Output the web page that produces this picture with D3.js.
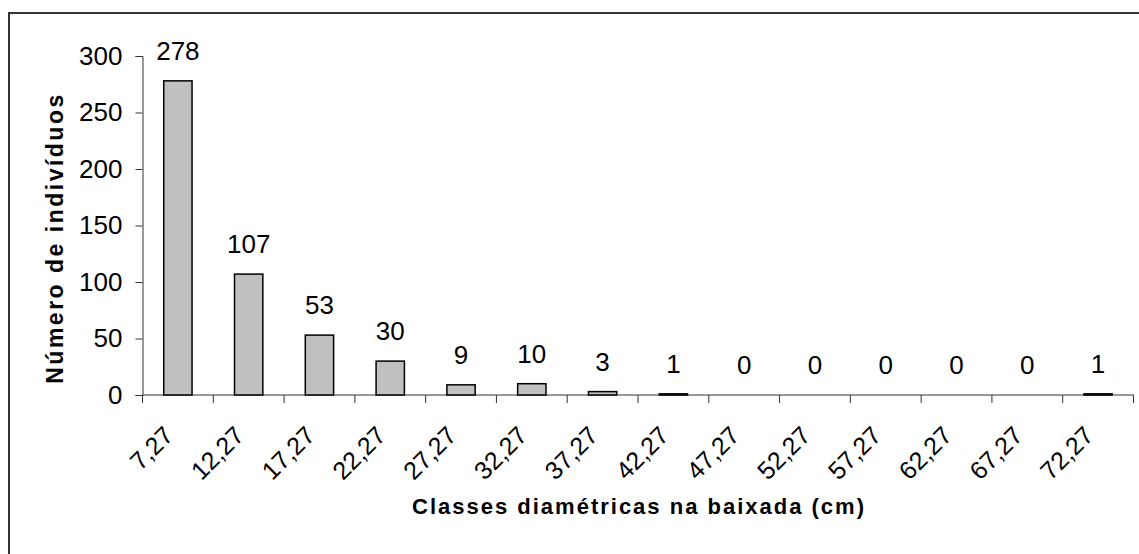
<!DOCTYPE html>
<html><head><meta charset="utf-8">
<script src="https://cdn.jsdelivr.net/npm/d3@7/dist/d3.min.js"></script>
<style>
html,body{margin:0;padding:0;background:#fff;}
text{font-family:Arial,"Liberation Sans",sans-serif;fill:#000;}
</style></head>
<body>
<svg id="chart" width="1139" height="554"></svg>
<script>
const categories = ["7,27","12,27","17,27","22,27","27,27","32,27","37,27","42,27","47,27","52,27","57,27","62,27","67,27","72,27"];
const counts = [278,107,53,30,9,10,3,1,0,0,0,0,0,1];
const yTicks = [0,50,100,150,200,250,300];
const xTitle = "Classes diamétricas na baixada (cm)";
const yTitle = "Número de indivíduos";

const data = categories.map((c,i)=>({c, v:counts[i]}));
const svg = d3.select("#chart");
const L = 142.5, R = 1133.5, T = 56, B = 395;
const FS = 26;

// outer frame
svg.append("rect").attr("x",9).attr("y",13).attr("width",1160).attr("height",600)
  .attr("fill","none").attr("stroke","#333").attr("stroke-width",2);

const x = d3.scaleBand().domain(categories).range([L,R]).paddingInner(0.6).paddingOuter(0.3);
const y = d3.scaleLinear().domain([0,300]).range([B,T]);
const step = x.step();

// y axis
const yAxis = svg.append("g").attr("transform",`translate(${L},0)`)
  .call(d3.axisLeft(y).tickValues(yTicks).tickSize(7).tickPadding(13));
yAxis.select(".domain").attr("stroke","#333");
yAxis.selectAll(".tick line").attr("stroke","#333");
yAxis.selectAll("text").attr("font-size",FS).attr("font-family","Arial, 'Liberation Sans', sans-serif").attr("fill","#000");

// x axis line
svg.append("line").attr("x1",L).attr("x2",R).attr("y1",B).attr("y2",B).attr("stroke","#333");
const bounds = categories.map(c => x(c) - step*0.3).concat([x(categories[categories.length-1]) - step*0.3 + step]);
svg.append("g").selectAll("line").data(bounds).join("line")
  .attr("x1",d=>d).attr("x2",d=>d).attr("y1",B).attr("y2",B+8).attr("stroke","#333");

// x tick labels
svg.append("g").selectAll("text").data(categories).join("text")
  .attr("transform",d=>`translate(${x(d)+x.bandwidth()/2-3},437) rotate(-45)`)
  .attr("text-anchor","end").attr("font-size",25).text(d=>d);

// bars
svg.append("g").selectAll("rect").data(data.filter(d=>d.v>0)).join("rect")
  .attr("x",d=>x(d.c)).attr("width",x.bandwidth())
  .attr("y",d=>y(d.v)).attr("height",d=>B-y(d.v))
  .attr("fill","#c0c0c0").attr("stroke","#000").attr("stroke-width",1.5);

// value labels
svg.append("g").selectAll("text").data(data).join("text")
  .attr("x",d=>x(d.c)+x.bandwidth()/2).attr("y",d=>y(d.v)-21)
  .attr("text-anchor","middle").attr("font-size",FS).text(d=>d.v);

// titles
svg.append("text").attr("x",639).attr("y",514).attr("text-anchor","middle")
  .attr("font-size",22).attr("font-weight","bold").attr("letter-spacing",2).text(xTitle);
svg.append("text").attr("transform","translate(63,238) rotate(-90)").attr("text-anchor","middle")
  .attr("font-size",23).attr("font-weight","bold").attr("letter-spacing",2.5).text(yTitle);
</script>
</body></html>
